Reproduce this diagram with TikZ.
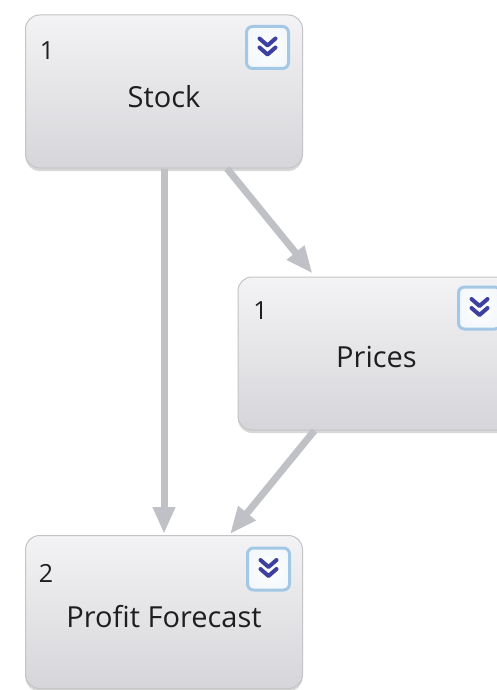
\documentclass[tikz,border=0pt]{standalone}
\usepackage{fontspec}
\setmainfont{Open Sans}
\usetikzlibrary{arrows.meta,shadows,calc}
\definecolor{boxtop}{HTML}{F3F3F5}
\definecolor{boxbot}{HTML}{D6D6DA}
\definecolor{boxline}{HTML}{C4C4C8}
\definecolor{arrowgray}{HTML}{C0C1C7}
\definecolor{btnline}{HTML}{A3C8E6}
\definecolor{chevblue}{HTML}{3D409E}
\definecolor{txt}{HTML}{1E1E1E}
\newcommand\chevs[1]{%
  \draw[chev] ($(#1.center)+(-8,-9)$) -- ++(8,7) -- ++(8,-7);
  \draw[chev] ($(#1.center)+(-8,0)$) -- ++(8,7) -- ++(8,-7);
}
\begin{document}
\begin{tikzpicture}[x=1pt,y=-1pt,
  box/.style={rectangle, rounded corners=14pt, draw=boxline, line width=1pt,
    top color=boxtop, bottom color=boxbot, minimum width=277pt,
    minimum height=153pt, inner sep=0pt,
    drop shadow={shadow xshift=0pt, shadow yshift=-3pt, opacity=.3}},
  title/.style={text=txt, font=\fontsize{29}{34}\selectfont, inner sep=0pt},
  num/.style={text=txt, font=\fontsize{25}{30}\selectfont, inner sep=0pt},
  btn/.style={rectangle, rounded corners=6pt, minimum size=42pt, inner sep=0pt,
    draw=btnline, line width=3pt, inner color=white, outer color=white!88!btnline},
  chev/.style={draw=chevblue, line width=4pt, line cap=round, line join=round},
  conn/.style={draw=arrowgray, line width=7pt, -{Triangle[length=27pt,width=21pt]}}
]
\useasboundingbox (0,0) rectangle (497,690);
\clip (0,0) rectangle (497,690);
\fill[white] (0,0) rectangle (497,690);

\node[box] (stock) at (164,91.5) {};
\node[box, minimum width=300pt] (prices) at (388,353.5) {};
\node[box] (profit) at (164,612) {};

\draw[conn] (stock.south) -- ($(profit.north)+(0,-1)$);
\draw[conn] ($(stock.south)+(63,0)$) -- ($(prices.north west)+(75,-3)$);
\draw[conn] ($(prices.south west)+(77,0)$) -- ($(profit.north)+(66,-1)$);

\node[title] (stocktitle) at ($(stock.center)+(0,5)$) {Stock};
\node[num] (stocknum) at ($(stock.north west)+(22,36)$) {1};
\node[btn] (stockbtn) at ($(stock.north east)+(-35.5,33)$) {};
\chevs{stockbtn}

\node[title] (pricestitle) at ($(prices.north west)+(139,80)$) {Prices};
\node[num] (pricesnum) at ($(prices.north west)+(23,34)$) {1};
\node[btn] (pricesbtn) at ($(prices.north west)+(242,31.5)$) {};
\chevs{pricesbtn}

\node[title] (profittitle) at ($(profit.center)+(0,5)$) {Profit Forecast};
\node[num] (profitnum) at ($(profit.north west)+(21,38)$) {2};
\node[btn] (profitbtn) at ($(profit.north east)+(-34.5,34)$) {};
\chevs{profitbtn}
\end{tikzpicture}
\end{document}
